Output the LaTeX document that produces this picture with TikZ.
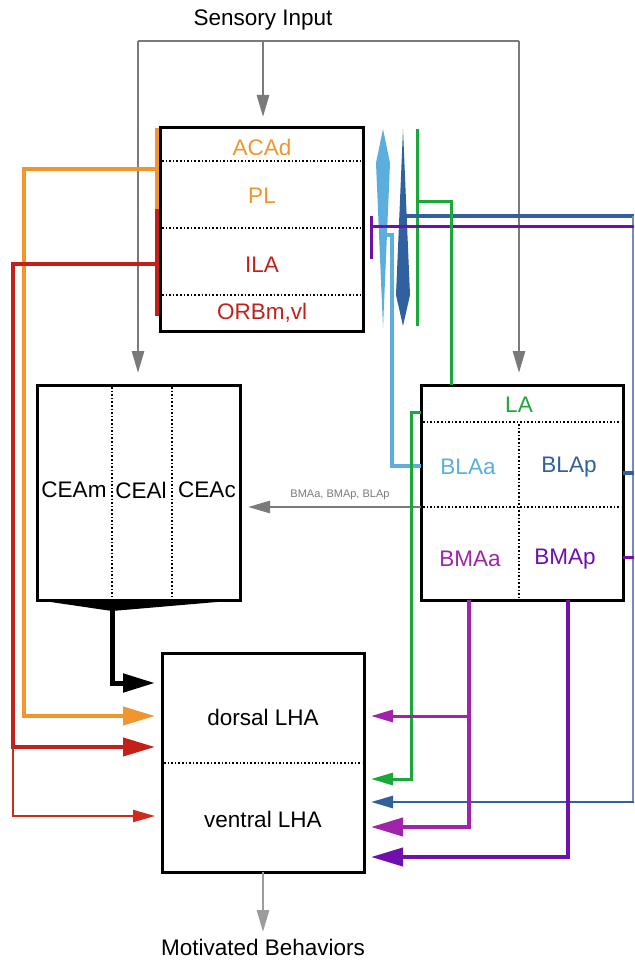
\documentclass[tikz,border=0pt]{standalone}
\usepackage{fontspec}
\setmainfont{Liberation Sans}
\usetikzlibrary{arrows.meta}
\definecolor{corange}{HTML}{F0962E}
\definecolor{cred}{HTML}{C4201A}
\definecolor{cred2}{HTML}{D02A1E}
\definecolor{clblue}{HTML}{5BAEDD}
\definecolor{cdblue}{HTML}{30619E}
\definecolor{cgreen}{HTML}{1BA83A}
\definecolor{cmag}{HTML}{A023AC}
\definecolor{cviol}{HTML}{6E0FAE}
\definecolor{cgray}{HTML}{7A7A7A}
\definecolor{clgray}{HTML}{9C9C9C}
\begin{document}
\begin{tikzpicture}[x=1pt,y=-1pt,
  box/.style={draw=black, line width=3pt, inner sep=0pt, outer sep=0pt, fill=none},
  lbl/.style={font=\fontsize{22.5}{25}\selectfont, inner sep=0pt},
  small/.style={font=\fontsize{11}{13}\selectfont, inner sep=0pt, text=cgray},
  div/.style={line width=2.6pt, dash pattern=on 1.6pt off 2pt},
  bighead/.style={-{Triangle[length=32pt,width=18pt]}},
  smallhead/.style={-{Triangle[length=22pt,width=12pt]}},
  gline/.style={draw=cgray, line width=2.8pt},
]
\useasboundingbox (0,0) rectangle (634,965);
\fill[white] (0,0) rectangle (634,965);

% boxes
\node[box, minimum width=203pt, minimum height=203pt] (pfc) at (262,229.5) {};
\node[box, minimum width=203pt, minimum height=215pt] (cea) at (138.5,492.5) {};
\node[box, minimum width=202pt, minimum height=215pt] (la) at (522,492.5) {};
\node[box, minimum width=202pt, minimum height=219pt] (lha) at (263,762.5) {};

% dividers
\draw[div] (162,161) -- (361,161);
\draw[div] (162,228) -- (361,228);
\draw[div] (162,295) -- (361,295);
\draw[div] (112,387) -- (112,598);
\draw[div] (172,387) -- (172,598);
\draw[div] (423,422) -- (621,422);
\draw[div] (423,507) -- (621,507);
\draw[div] (519,424) -- (519,598);
\draw[div] (164,763) -- (362,763);

% labels
\node[lbl] (sens) at (263,20) {Sensory Input};
\node[lbl] (motiv) at (263,947) {Motivated Behaviors};
\node[lbl, text=corange] (acad) at (262,147) {ACAd};
\node[lbl, text=corange] (pl) at (262,196) {PL};
\node[lbl, text=cred] (ila) at (262,265) {ILA};
\node[lbl, text=cred] (orb) at (262,313) {ORBm,vl};
\node[lbl] (ceam) at (74,490) {CEAm};
\node[lbl] (ceal) at (141,490) {CEAl};
\node[lbl] (ceac) at (207,490) {CEAc};
\node[lbl, text=cgreen] (lalbl) at (519,405) {LA};
\node[lbl, text=clblue] (blaa) at (468,467) {BLAa};
\node[lbl, text=cdblue] (blap) at (569,467) {BLAp};
\node[lbl, text=cmag] (bmaa) at (470,559) {BMAa};
\node[lbl, text=cviol] (bmap) at (565,559) {BMAp};
\node[lbl] (dlha) at (263,717) {dorsal LHA};
\node[lbl] (vlha) at (263,819) {ventral LHA};
\node[small] (glbl) at (340,495) {BMAa, BMAp, BLAp};

% sensory input lines
\coordinate (gtl) at (138,41);
\coordinate (gtm) at (263,41);
\coordinate (gtr) at (519,41);
\draw[gline] (gtl) -- (gtr);
\draw[gline, smallhead, shorten >=11pt] (gtm) -- (gtm |- pfc.north);
\draw[gline, smallhead, shorten >=12pt] (gtl) -- (gtl |- cea.north);
\draw[gline, smallhead, shorten >=12pt] (gtr) -- (gtr |- la.north);

% motivated behaviors
\coordinate (mtip) at (263,932);
\draw[draw=clgray, line width=2.8pt, smallhead] (lha.south) -- (mtip);

% orange / red bars and paths
\coordinate (ob1) at (157,128); \coordinate (ob2) at (157,209);
\coordinate (rb2) at (157,316);
\draw[corange, line width=4pt] (ob1) -- (ob2);
\draw[cred, line width=4pt] (ob2) -- (rb2);
\coordinate (oj) at (157,169); \coordinate (oc) at (24,169); \coordinate (od) at (24,716);
\draw[corange, line width=4pt, bighead, shorten >=7pt] (oj) -- (oc) -- (od) -- (od -| lha.west);
\coordinate (rj) at (157,264); \coordinate (rc) at (13,264); \coordinate (rd) at (13,747); \coordinate (re) at (13,816);
\draw[cred, line width=4pt, bighead, shorten >=7pt] (rj) -- (rc) -- (rd) -- (rd -| lha.west);
\draw[cred2, line width=2.2pt, smallhead, shorten >=7pt] (rd) -- (re) -- (re -| lha.west);

% CEA funnel and output
\fill[black] (cea.south west) -- (cea.south east) -- (112,611) -- cycle;
\coordinate (ck) at (112,683);
\draw[black, line width=5pt, bighead, shorten >=7pt] (112,608) -- (ck) -- (ck -| lha.west);

% BLA -> CEA gray
\coordinate (gs) at (421,507);
\draw[draw=cgray, line width=2.5pt, smallhead, shorten >=8pt] (gs) -- (gs -| cea.east);

% diamonds and bars near PFC
\fill[clblue] (383,129) -- (390,163) -- (383,328) -- (376,163) -- cycle;
\fill[cdblue] (403,129) -- (410,295) -- (403,326) -- (396,295) -- cycle;
\draw[cgreen, line width=3pt] (417,129) -- (417,326);
\draw[cviol, line width=3pt] (371,216) -- (371,259);

% light blue BLAa
\coordinate (lb1) at (384,235); \coordinate (lb2) at (392,235); \coordinate (lb3) at (392,466);
\draw[clblue, line width=4pt] (lb1) -- (lb2) -- (lb3) -- (lb3 -| la.west);

% dark blue BLAp
\coordinate (db1) at (405,216); \coordinate (db2) at (634,216);
\draw[cdblue, line width=4pt] (db1) -- (db2);
\coordinate (db3) at (633,802);
\draw[cdblue!70, line width=1.5pt] (633,216) -- (db3);
\coordinate (bp) at (634,473);
\draw[cdblue, line width=4pt] (bp -| la.east) -- (bp);
\draw[cdblue, line width=2.8pt, smallhead, shorten >=7pt] (634,802) -- (db3 -| lha.east);

% purple BMAp top
\coordinate (pp1) at (371,227); \coordinate (pp2) at (634,227);
\draw[cviol, line width=3pt] (pp1) -- (pp2);
\coordinate (pp3) at (634,557);
\draw[cviol, line width=3pt] (pp3 -| la.east) -- (pp3);

% green LA
\coordinate (g1) at (417,202); \coordinate (g2) at (451,202);
\draw[cgreen, line width=3pt] (g1) -- (g2) -- (g2 |- la.north);
\coordinate (g3) at (411,412); \coordinate (g4) at (411,779);
\draw[cgreen, line width=3pt, smallhead, shorten >=7pt] (g3 -| la.west) -- (g3) -- (g4) -- (g4 -| lha.east);

% magenta BMAa
\coordinate (m1) at (469,716); \coordinate (m2) at (469,827);
\draw[cmag, line width=4pt, bighead, shorten >=7pt] (m1 |- la.south) -- (m2) -- (m2 -| lha.east);
\draw[cmag, line width=3pt, smallhead, shorten >=7pt] (m1) -- (m1 -| lha.east);

% violet BMAp
\coordinate (v1) at (568,857);
\draw[cviol, line width=4pt, bighead, shorten >=7pt] (v1 |- la.south) -- (v1) -- (v1 -| lha.east);
\end{tikzpicture}
\end{document}
